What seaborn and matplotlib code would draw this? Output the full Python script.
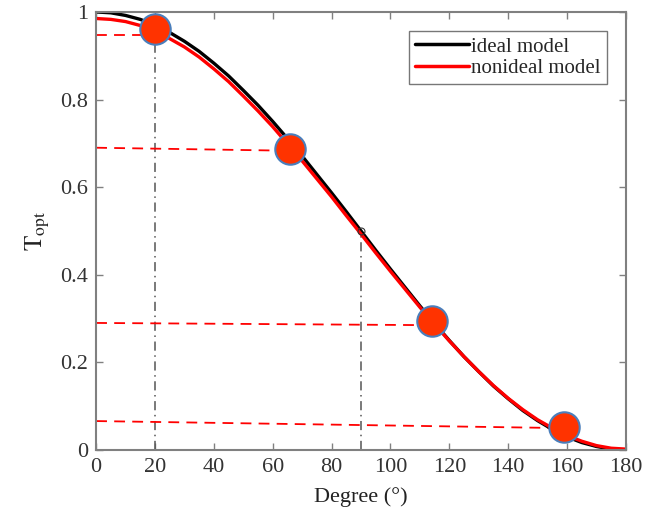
import numpy as np
import pandas as pd
import matplotlib
matplotlib.use("Agg")
import matplotlib.pyplot as plt
import seaborn as sns

# ---- data ----
degrees = [0, 5, 10, 15, 20, 25, 30, 35, 40, 45, 50, 55, 60, 65, 70, 75, 80, 85, 90,
           95, 100, 105, 110, 115, 120, 125, 130, 135, 140, 145, 150, 155, 160, 165, 170, 175, 180]
ideal = [1.000, 0.998, 0.992, 0.983, 0.970, 0.953, 0.933, 0.910, 0.883, 0.854, 0.821,
         0.787, 0.750, 0.711, 0.671, 0.629, 0.587, 0.544, 0.500, 0.456, 0.413, 0.371,
         0.329, 0.289, 0.250, 0.213, 0.179, 0.146, 0.117, 0.090, 0.067, 0.047, 0.030,
         0.017, 0.008, 0.002, 0.000]
nonideal = [0.985, 0.983, 0.978, 0.969, 0.956, 0.939, 0.920, 0.897, 0.870, 0.841, 0.808,
            0.774, 0.738, 0.699, 0.660, 0.619, 0.578, 0.535, 0.493, 0.450, 0.408, 0.367,
            0.326, 0.287, 0.249, 0.213, 0.179, 0.147, 0.118, 0.092, 0.069, 0.050, 0.033,
            0.020, 0.010, 0.004, 0.002]

point_deg = [20, 66, 114, 159]
point_val = [0.962, 0.686, 0.295, 0.052]

# red dashed guide lines: start (x, y) and end (x, y)
hline_x0 = [0, 0, 0, 0]
hline_y0 = [0.948, 0.690, 0.290, 0.066]
hline_x1 = [20, 67, 112, 158]
hline_y1 = [0.948, 0.683, 0.285, 0.050]

# grey dash-dot vertical guides
vline_x = [20, 90]
vline_top = [0.962, 0.500]

half_deg = [90]
half_val = [0.500]

xticks = [0, 20, 40, 60, 80, 100, 120, 140, 160, 180]
yticks = [0, 0.2, 0.4, 0.6, 0.8, 1.0]
yticklabels = ["0", "0.2", "0.4", "0.6", "0.8", "1"]

# ---- styling ----
sns.set_theme(style="white")
plt.rcParams["font.family"] = ["Liberation Serif", "DejaVu Serif"]
plt.rcParams["mathtext.fontset"] = "stix"

fig = plt.figure(figsize=(6.54, 5.19), dpi=100)
ax = fig.add_axes([0.147, 0.133, 0.810, 0.844])

df = pd.DataFrame({"deg": degrees, "ideal model": ideal, "nonideal model": nonideal})
long = df.melt(id_vars="deg", var_name="model", value_name="T")

# guides first (under the curves)
for x, top in zip(vline_x, vline_top):
    ax.plot([x, x], [0, top], color="#555555", lw=1.1, ls=(0, (6, 3, 1, 3)), zorder=1)
for x0, y0, x1, y1 in zip(hline_x0, hline_y0, hline_x1, hline_y1):
    ax.plot([x0, x1], [y0, y1], color="#ff0000", lw=1.3, ls=(0, (6, 4)), zorder=1)

sns.lineplot(data=long, x="deg", y="T", hue="model",
             palette={"ideal model": "black", "nonideal model": "#ff0000"},
             linewidth=2.4, ax=ax, zorder=2, legend=True)

ax.plot(half_deg, half_val, marker="o", ms=5, mfc="none", mec="#333333", mew=0.8, ls="none", zorder=3)

sns.scatterplot(x=point_deg, y=point_val, s=480, color="#ff3300",
                edgecolor="#4a7ebb", linewidth=1.5, ax=ax, zorder=4, legend=False)

ax.set_xlim(0, 180)
ax.set_ylim(0, 1)
ax.set_xticks(xticks)
ax.set_yticks(yticks)
ax.set_yticklabels(yticklabels)
ax.set_xlabel("Degree (°)", fontsize=16, color="#222222", labelpad=7)
ax.set_ylabel(r"$\mathrm{T_{opt}}$", fontsize=18, color="#222222", labelpad=6)

for s in ax.spines.values():
    s.set_visible(True)
    s.set_color("#808080")
    s.set_linewidth(1.5)
ax.tick_params(direction="in", length=5, width=1, color="#808080",
               labelsize=16, labelcolor="#333333", top=True, right=True,
               bottom=True, left=True, pad=6)

leg = ax.legend(loc="upper right", fontsize=15, frameon=True, fancybox=False,
                edgecolor="#555555", handlelength=2.6, handletextpad=0.1,
                borderpad=0.3, labelspacing=0.1, borderaxespad=0.9)
leg.set_title(None)
leg.get_frame().set_linewidth(1.0)
for line in leg.get_lines():
    line.set_linewidth(2.5)

fig.savefig("out.png", dpi=100)
